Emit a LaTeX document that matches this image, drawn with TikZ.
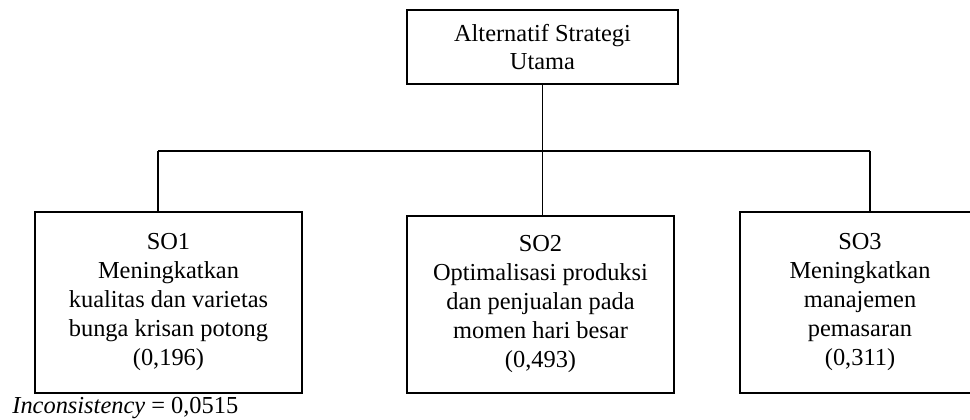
\documentclass[tikz,border=0pt]{standalone}
\usepackage{fontspec}
\setmainfont{Liberation Serif}
\usepackage{tikz}
\usetikzlibrary{calc,positioning}

\tikzset{
    stratbox/.style={draw, line width=0.9pt, align=center, inner sep=0pt,
        font=\fontsize{12.2pt}{14.5pt}\selectfont},
    link/.style={line width=0.8pt}
}

\begin{document}
\begin{tikzpicture}[x=0.5pt, y=-0.5pt]
        \useasboundingbox (0, 0) rectangle (970, 419);

        %%top
        \node[stratbox, font=\fontsize{12.2pt}{13.8pt}\selectfont, minimum width=135.5pt, minimum height=37pt] (top) at (542.5, 47)
            {Alternatif Strategi\\Utama};

        %%SO
        \node[stratbox, minimum width=133.5pt, minimum height=90.5pt] (so1) at (168.5, 302.5)
            {SO1\\Meningkatkan\\kualitas dan varietas\\bunga krisan potong\\(0,196)};
        \node[stratbox, line width=0.6pt, minimum width=133.5pt, minimum height=88.5pt] (so2) at (540.5, 304.5)
            {SO2\\Optimalisasi produksi\\dan penjualan pada\\momen hari besar\\(0,493)};
        \node[stratbox, minimum width=120pt, minimum height=90.5pt] (so3) at (860, 302.5)
            {SO3\\Meningkatkan\\manajemen\\pemasaran\\(0,311)};

        %%lines
        \coordinate (busL) at (158, 151);
        \coordinate (busR) at (870, 151);
        \draw[link] (top.south) -- (top.south |- so2.north);
        \draw[link] (busL) -- (busR);
        \draw[link] (busL) -- (busL |- so1.north);
        \draw[link] (busR) -- (busR |- so3.north);

        \node[anchor=base west, inner sep=0pt, font=\fontsize{12.2pt}{14pt}\selectfont] (inc) at (12, 413)
            {\textit{Inconsistency} = 0,0515};
\end{tikzpicture}
\end{document}
